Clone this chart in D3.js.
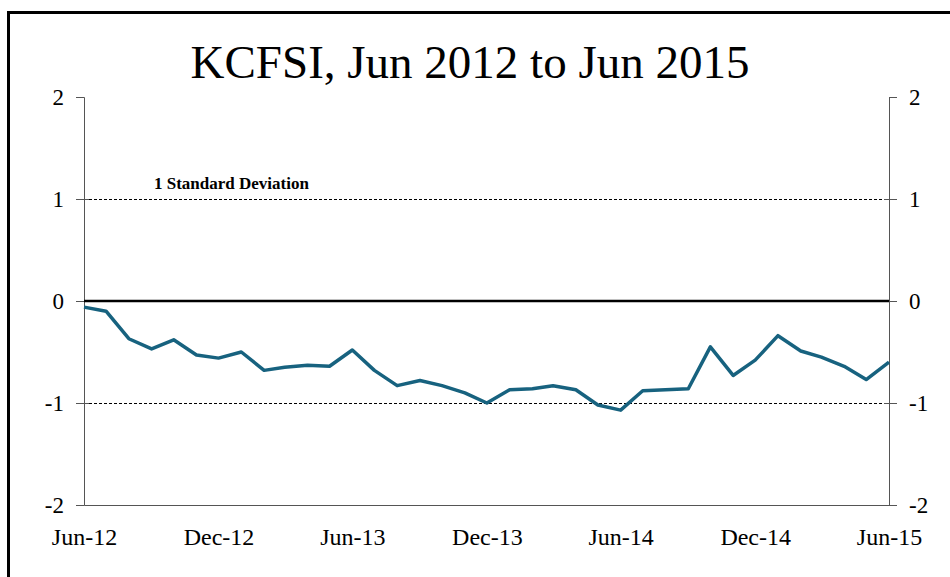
<!DOCTYPE html>
<html>
<head>
<meta charset="utf-8">
<script src="https://cdn.jsdelivr.net/npm/d3@7"></script>
<style>
  body { margin: 0; background: #fff; }
</style>
</head>
<body>
<svg id="chart" width="950" height="577" font-family="'Liberation Serif', 'Times New Roman', serif"></svg>
<script>
// monthly KCFSI readings, Jun 2012 .. Jun 2015
var months = d3.range(37).map(function (i) { return new Date(2012, 5 + i, 1); });
var kcfsi = [-0.06, -0.10, -0.37, -0.47, -0.38, -0.53, -0.56, -0.50, -0.68, -0.65,
             -0.63, -0.64, -0.48, -0.68, -0.83, -0.78, -0.83, -0.90, -1.00, -0.87,
             -0.86, -0.83, -0.87, -1.02, -1.07, -0.88, -0.87, -0.86, -0.45, -0.73,
             -0.58, -0.34, -0.49, -0.55, -0.64, -0.77, -0.60];
var yTicks = [-2, -1, 0, 1, 2];
var xTickLabels = ["Jun-12", "Dec-12", "Jun-13", "Dec-13", "Jun-14", "Dec-14", "Jun-15"];
var sdLines = [1, -1];

var svg = d3.select("#chart");
var plotLeft = 84, plotRight = 889, plotTop = 97, plotBottom = 505;
var serif = "'Liberation Serif', 'Times New Roman', serif";

// outer frame, cut off at right/bottom like the original
svg.append("rect").attr("x", 8.5).attr("y", 12.5).attr("width", 1000).attr("height", 1000)
    .attr("fill", "none").attr("stroke", "#000").attr("stroke-width", 3);

svg.append("text").attr("x", 470).attr("y", 78).attr("text-anchor", "middle")
    .attr("font-size", 47).attr("font-family", serif).text("KCFSI, Jun 2012 to Jun 2015");

var x = d3.scaleTime().domain([months[0], months[36]]).range([plotLeft, plotRight]);
var y = d3.scaleLinear().domain([-2, 2]).range([plotBottom, plotTop]);

// +/- 1 sd dashed lines
svg.selectAll(".sd").data(sdLines).enter().append("line")
    .attr("x1", plotLeft).attr("x2", plotRight)
    .attr("y1", function (d) { return y(d) + 0.5; }).attr("y2", function (d) { return y(d) + 0.5; })
    .attr("stroke", "#000").attr("stroke-width", 1).attr("stroke-dasharray", "3,2");

svg.append("text").attr("x", 154).attr("y", 189).attr("font-size", 17).attr("font-weight", "bold")
    .attr("font-family", serif).text("1 Standard Deviation");

var fmt = function (d) { return String(d); }; // plain hyphen minus like the original
var yl = svg.append("g").attr("transform", "translate(" + plotLeft + ",0)")
    .call(d3.axisLeft(y).tickValues(yTicks).tickSize(8).tickPadding(12).tickFormat(fmt));
var yr = svg.append("g").attr("transform", "translate(" + plotRight + ",0)")
    .call(d3.axisRight(y).tickValues(yTicks).tickSize(8).tickPadding(12).tickFormat(fmt));
[yl, yr].forEach(function (g) {
    g.select(".domain").attr("stroke", "#555");
    g.selectAll(".tick line").attr("stroke", "#555");
    g.selectAll(".tick text").attr("font-size", 23).attr("fill", "#000").attr("font-family", serif);
});
yl.selectAll(".tick line").attr("x1", function (d) { return (d === 2 || d === -2) ? 0 : 5; });
yr.selectAll(".tick line").attr("x1", function (d) { return (d === 2 || d === -2) ? 0 : -5; });

var xa = svg.append("g").attr("transform", "translate(0," + plotBottom + ")")
    .call(d3.axisBottom(x).tickValues(months.filter(function (d, i) { return i % 6 === 0; }))
        .tickSize(0).tickPadding(23)
        .tickFormat(function (d, i) { return xTickLabels[i]; }));
xa.select(".domain").attr("stroke", "#555");
xa.selectAll(".tick text").attr("font-size", 24).attr("fill", "#000").attr("font-family", serif);

// zero line
svg.append("line").attr("x1", plotLeft).attr("x2", plotRight).attr("y1", y(0)).attr("y2", y(0))
    .attr("stroke", "#000").attr("stroke-width", 2.5);

svg.append("path").datum(kcfsi)
    .attr("fill", "none").attr("stroke", "#17627F").attr("stroke-width", 3.5)
    .attr("stroke-linejoin", "round")
    .attr("d", d3.line().x(function (d, i) { return x(months[i]); }).y(function (d) { return y(d); }));
</script>
</body>
</html>
